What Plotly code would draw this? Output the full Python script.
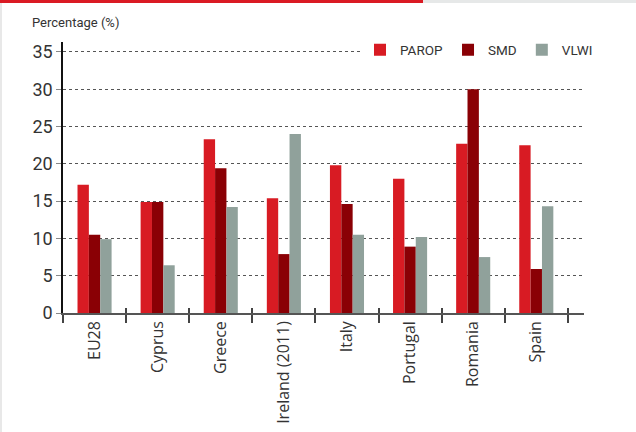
'''
    Grouped bar chart: PAROP, SMD and VLWI by country.
'''

import plotly.graph_objects as go

countries = ['EU28', 'Cyprus', 'Greece', 'Ireland (2011)', 'Italy', 'Portugal', 'Romania', 'Spain']
parop = [17.2, 14.9, 23.3, 15.4, 19.8, 18.0, 22.7, 22.5]
smd = [10.5, 14.9, 19.4, 7.9, 14.6, 8.9, 30.0, 5.9]
vlwi = [9.9, 6.4, 14.2, 24.0, 10.5, 10.2, 7.5, 14.3]

series = [('PAROP', parop, '#d81b23'), ('SMD', smd, '#8a0005'), ('VLWI', vlwi, '#90a19b')]

W, H = 636, 432
M = dict(l=63, r=52, t=42, b=119)
plot_w = W - M['l'] - M['r']
plot_h = H - M['t'] - M['b']

fig = go.Figure()
for name, vals, color in series:
    fig.add_trace(go.Bar(x=countries, y=vals, name=name, marker_color=color,
                         marker_line_width=0))

# invisible helper trace so the overlay axis (crossing tick tops) renders
fig.add_trace(go.Scatter(x=[-0.5, len(countries) - 0.5], y=[0, 0], xaxis='x2',
                         mode='markers', marker_opacity=0, showlegend=False,
                         hoverinfo='skip'))

fig.update_layout(
    width=W, height=H, margin=dict(M, autoexpand=False),
    paper_bgcolor='white', plot_bgcolor='white',
    barmode='group', bargap=0.46, bargroupgap=0,
    font=dict(family='Open Sans', color='#333333'),
    legend=dict(orientation='h', x=1 + 14 / plot_w, xanchor='right', y=1 - 8 / plot_h,
                yanchor='middle', font=dict(family='Roboto', size=13.5, color='#333333'),
                bgcolor='white', itemwidth=30, traceorder='normal'),
    xaxis=dict(range=[-0.5, len(countries) - 0.5 + 0.256], tickson='boundaries',
               ticks='outside', ticklen=8, tickwidth=1.5, tickcolor='#444444',
               showline=True, linecolor='#555555', linewidth=1.5, automargin=False,
               tickangle=-90, tickfont=dict(family='Open Sans', size=16, color='#333333'),
               showgrid=False, zeroline=False),
    xaxis2=dict(overlaying='x', range=[-0.5, len(countries) - 0.5 + 0.256],
                tickvals=[i - 0.5 for i in range(len(countries) + 1)],
                ticks='inside', ticklen=5, tickwidth=1.5, tickcolor='#444444',
                showticklabels=False, showline=False, showgrid=False, zeroline=False,
                anchor='y', side='bottom', automargin=False),
    yaxis=dict(range=[0, 36.34], tickvals=[0, 5, 10, 15, 20, 25, 30, 35],
               ticks='outside', ticklen=5, tickcolor='#888888', tickwidth=1,
               showline=True, linecolor='#111111', linewidth=1.5, automargin=False,
               showgrid=True, gridcolor='#555555', gridwidth=1, griddash='dot',
               zeroline=False, tickfont=dict(family='Roboto', size=18, color='#333333')),
    annotations=[dict(text='Percentage (%)', xref='paper', yref='paper',
                      x=-(M['l'] - 30) / plot_w, xanchor='left',
                      y=1 + (M['t'] - 22) / plot_h, yanchor='middle', showarrow=False,
                      font=dict(family='Roboto', size=13, color='#333333'))],
    shapes=[
        dict(type='rect', xref='paper', yref='paper', layer='above', line_width=0,
             x0=-M['l'] / plot_w, x1=(423 - M['l']) / plot_w,
             y0=1 + (M['t'] - 3) / plot_h, y1=1 + M['t'] / plot_h, fillcolor='#da1a23'),
        dict(type='rect', xref='paper', yref='paper', layer='above', line_width=0,
             x0=(423 - M['l']) / plot_w, x1=1 + M['r'] / plot_w,
             y0=1 + (M['t'] - 3) / plot_h, y1=1 + M['t'] / plot_h, fillcolor='#e6e8e8'),
        dict(type='rect', xref='paper', yref='paper', layer='above', line_width=0,
             x0=-M['l'] / plot_w, x1=-(M['l'] - 2) / plot_w,
             y0=-M['b'] / plot_h, y1=1 + (M['t'] - 3) / plot_h, fillcolor='#e8e8e8'),
    ],
)

# drop the browser's default page margin so the figure sits at the window corner
fig.write_html('out.html', config={'displayModeBar': False},
               post_script="document.body.style.margin='0';")
